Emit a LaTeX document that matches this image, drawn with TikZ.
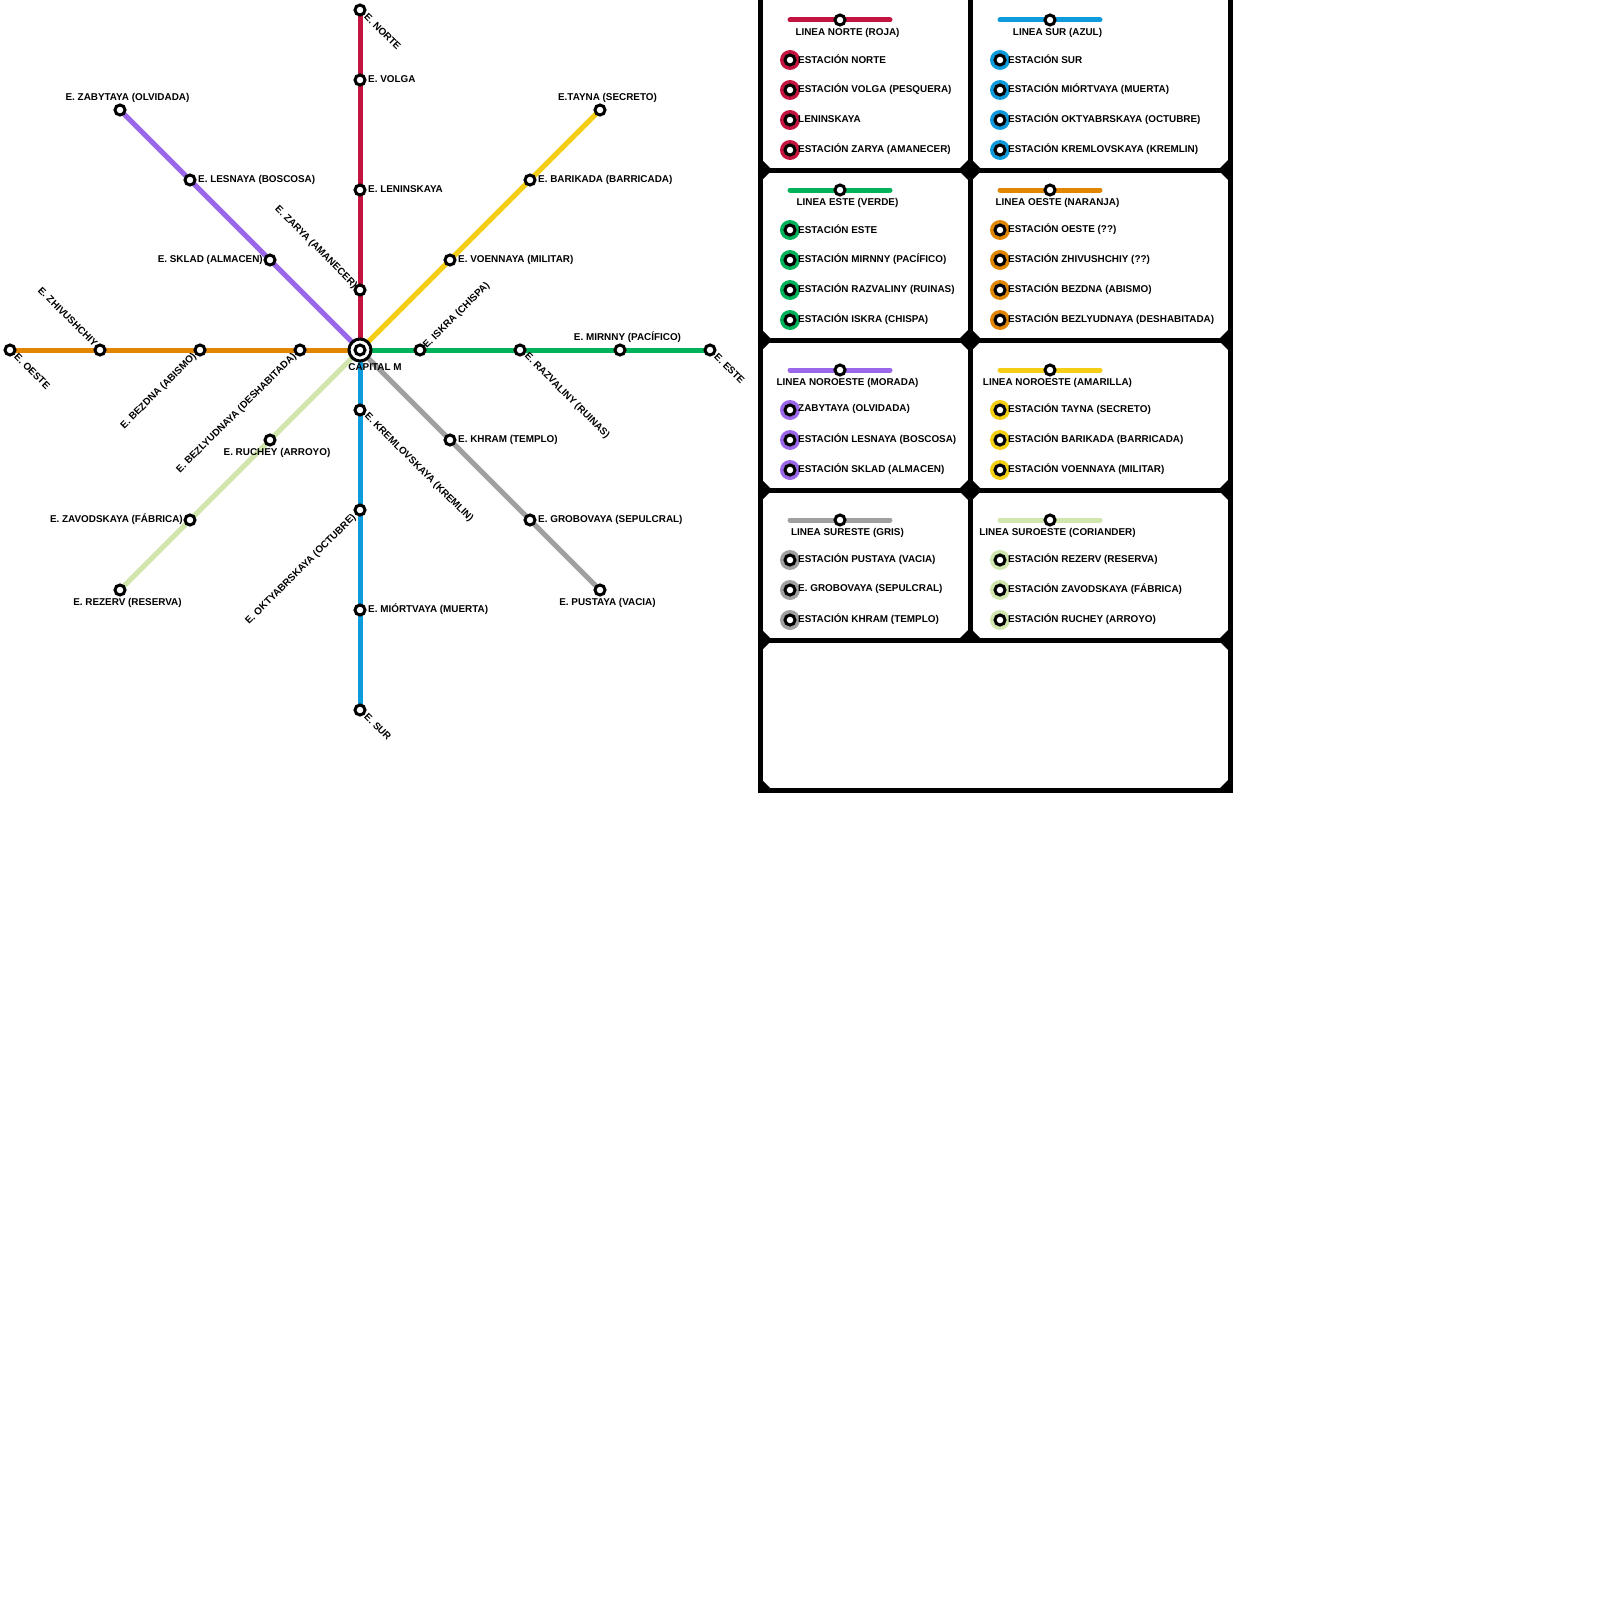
\documentclass[tikz,border=0pt]{standalone}
\usepackage{fontspec}
\setmainfont{Liberation Sans}[BoldFont={Liberation Sans Bold}]
\definecolor{cRed}{HTML}{C2143F}
\definecolor{cBlue}{HTML}{0E9BDC}
\definecolor{cGreen}{HTML}{00B35A}
\definecolor{cOrange}{HTML}{E08600}
\definecolor{cPurple}{HTML}{9B67EA}
\definecolor{cYellow}{HTML}{F3CE14}
\definecolor{cGray}{HTML}{A0A0A0}
\definecolor{cLime}{HTML}{D1E6AC}
\tikzset{
  stn/.style={circle,draw=black,fill=white,line width=3pt,minimum size=10pt,inner sep=0pt},
  hub/.style={circle,draw=black,fill=white,line width=3pt,minimum size=22pt,inner sep=0pt},
  tline/.style={line width=5pt},
  lgline/.style={line width=5pt,line cap=round},
  lab/.style={inner sep=0pt,font=\fontsize{9.9}{11}\selectfont\bfseries,text=black},
  labw/.style={lab,anchor=west},
  labe/.style={lab,anchor=east},
  rotd/.style={rotate=-45},
  rotu/.style={rotate=45},
  frame/.style={line width=5pt,draw=black,line cap=butt},
}
\pgfdeclarelayer{background}
\pgfsetlayers{background,main}
\newcommand{\lgtitle}[6]{% id, xleft, y, colour, title, title-x
  \coordinate (#1a) at (#2,#3);
  \coordinate (#1b) at (#2+100,#3);
  \node[stn] (#1s) at (#2+50,#3) {};
  \begin{pgfonlayer}{background}\draw[lgline,#4] (#1a) -- (#1b);\end{pgfonlayer}
  \node[lab] (#1t) at (#6,#3+12.5) {#5};
}
\newcommand{\lgstop}[5]{% id, x, y, colour, text
  \node[circle,fill=#4,minimum size=20pt,inner sep=0pt] (#1d) at (#2,#3) {};
  \node[stn] (#1s) at (#2,#3) {};
  \node[labw] (#1t) at (#2+8,#3-1) {#5};
}
\begin{document}
\begin{tikzpicture}[x=1pt,y=-1pt]
\begin{pgfonlayer}{background}
\fill[white] (0,0) rectangle (1600,1600);
\end{pgfonlayer}
\useasboundingbox (0,0) rectangle (1600,1600);

% stations
\node[stn] (rA) at (360,10) {};
\node[stn] (rB) at (360,80) {};
\node[stn] (rC) at (360,190) {};
\node[stn] (rD) at (360,290) {};
\node[stn] (uA) at (360,410) {};
\node[stn] (uB) at (360,510) {};
\node[stn] (uC) at (360,610) {};
\node[stn] (uD) at (360,710) {};
\node[stn] (oA) at (10,350) {};
\node[stn] (oB) at (100,350) {};
\node[stn] (oC) at (200,350) {};
\node[stn] (oD) at (300,350) {};
\node[stn] (gA) at (420,350) {};
\node[stn] (gB) at (520,350) {};
\node[stn] (gC) at (620,350) {};
\node[stn] (gD) at (710,350) {};
\node[stn] (pA) at (120,110) {};
\node[stn] (pB) at (190,180) {};
\node[stn] (pC) at (270,260) {};
\node[stn] (yA) at (600,110) {};
\node[stn] (yB) at (530,180) {};
\node[stn] (yC) at (450,260) {};
\node[stn] (kA) at (450,440) {};
\node[stn] (kB) at (530,520) {};
\node[stn] (kC) at (600,590) {};
\node[stn] (lA) at (270,440) {};
\node[stn] (lB) at (190,520) {};
\node[stn] (lC) at (120,590) {};
\node[hub] (cap) at (360,350) {};
\node[stn] (capin) at (360,350) {};

% lines
\begin{pgfonlayer}{background}
\draw[tline,cRed] (rA.center) -- (rB.center) -- (rC.center) -- (rD.center) -- (cap.center);
\draw[tline,cBlue] (cap.center) -- (uA.center) -- (uB.center) -- (uC.center) -- (uD.center);
\draw[tline,cOrange] (oA.center) -- (oB.center) -- (oC.center) -- (oD.center) -- (cap.center);
\draw[tline,cGreen] (cap.center) -- (gA.center) -- (gB.center) -- (gC.center) -- (gD.center);
\draw[tline,cPurple] (pA.center) -- (pB.center) -- (pC.center) -- (cap.center);
\draw[tline,cYellow] (yA.center) -- (yB.center) -- (yC.center) -- (cap.center);
\draw[tline,cGray] (cap.center) -- (kA.center) -- (kB.center) -- (kC.center);
\draw[tline,cLime] (cap.center) -- (lA.center) -- (lB.center) -- (lC.center);
\end{pgfonlayer}

% map labels
\node[labw,rotd] (t1) at (366,15) {E. NORTE};
\node[labw] (t2) at (368,79.5) {E. VOLGA};
\node[labw] (t3) at (368,189.5) {E. LENINSKAYA};
\node[labe,rotd] (t4) at (355.5,287) {E. ZARYA (AMANECER)};
\node[lab] (t5) at (375,367.5) {CAPITAL M};
\node[labw,rotd] (t6) at (366,415) {E. KREMLOVSKAYA (KREMLIN)};
\node[labe,rotu] (t7) at (354.5,516) {E. OKTYABRSKAYA (OCTUBRE)};
\node[labw] (t8) at (368,609.5) {E. MIÓRTVAYA (MUERTA)};
\node[labw,rotd] (t9) at (366,715) {E. SUR};
\node[labw,rotd] (t10) at (16,355) {E. OESTE};
\node[labe,rotd] (t11) at (96,345) {E. ZHIVUSHCHIY};
\node[labe,rotu] (t12) at (195,355) {E. BEZDNA (ABISMO)};
\node[labe,rotu] (t13) at (295,355) {E. BEZLYUDNAYA (DESHABITADA)};
\node[lab] (t14) at (277,452.5) {E. RUCHEY (ARROYO)};
\node[labe] (t15) at (183,519.5) {E. ZAVODSKAYA (FÁBRICA)};
\node[lab] (t16) at (127.5,602.5) {E. REZERV (RESERVA)};
\node[lab] (t17) at (127.5,97.5) {E. ZABYTAYA (OLVIDADA)};
\node[labw] (t18) at (198,179.5) {E. LESNAYA (BOSCOSA)};
\node[labe] (t19) at (263,260) {E. SKLAD (ALMACEN)};
\node[lab] (t20) at (607.5,97.5) {E.TAYNA (SECRETO)};
\node[labw] (t21) at (538,179.5) {E. BARIKADA (BARRICADA)};
\node[labw] (t22) at (458,259.5) {E. VOENNAYA (MILITAR)};
\node[labw,rotu] (t23) at (425,347) {E. ISKRA (CHISPA)};
\node[labw,rotd] (t24) at (526,355) {E. RAZVALINY (RUINAS)};
\node[lab] (t25) at (627.5,337) {E. MIRNNY (PACÍFICO)};
\node[labw,rotd] (t26) at (716,355) {E. ESTE};
\node[labw] (t27) at (458,439.5) {E. KHRAM (TEMPLO)};
\node[labw] (t28) at (538,519.5) {E. GROBOVAYA (SEPULCRAL)};
\node[lab] (t29) at (607.5,602.5) {E. PUSTAYA (VACIA)};

% legend frame
\draw[frame] (760,0) -- (760,792.5);
\draw[frame] (970,0) -- (970,640);
\draw[frame] (1230,0) -- (1230,792.5);
\foreach \yy in {170,340,490,640,790} \draw[frame] (757.5,\yy) -- (1232.5,\yy);
\foreach \yy in {170,340,490,640} {
  \fill (760,\yy-12) -- (772,\yy) -- (760,\yy+12) -- cycle;
  \fill (1230,\yy-12) -- (1218,\yy) -- (1230,\yy+12) -- cycle;
}
\foreach \yy in {170,340,490} \fill (970,\yy-12) -- (982,\yy) -- (970,\yy+12) -- (958,\yy) -- cycle;
\fill (958,640) -- (970,628) -- (982,640) -- cycle;
\fill (760,778) -- (772,790) -- (760,790) -- cycle;
\fill (1230,778) -- (1218,790) -- (1230,790) -- cycle;

% legend: north
\lgtitle{a}{790}{20}{cRed}{LINEA NORTE (ROJA)}{847.5}
\lgstop{a1}{790}{60}{cRed}{ESTACIÓN NORTE}
\lgstop{a2}{790}{90}{cRed}{ESTACIÓN VOLGA (PESQUERA)}
\lgstop{a3}{790}{120}{cRed}{LENINSKAYA}
\lgstop{a4}{790}{150}{cRed}{ESTACIÓN ZARYA (AMANECER)}
% south
\lgtitle{b}{1000}{20}{cBlue}{LINEA SUR (AZUL)}{1057.5}
\lgstop{b1}{1000}{60}{cBlue}{ESTACIÓN SUR}
\lgstop{b2}{1000}{90}{cBlue}{ESTACIÓN MIÓRTVAYA (MUERTA)}
\lgstop{b3}{1000}{120}{cBlue}{ESTACIÓN OKTYABRSKAYA (OCTUBRE)}
\lgstop{b4}{1000}{150}{cBlue}{ESTACIÓN KREMLOVSKAYA (KREMLIN)}
% east
\lgtitle{c}{790}{190}{cGreen}{LINEA ESTE (VERDE)}{847.5}
\lgstop{c1}{790}{230}{cGreen}{ESTACIÓN ESTE}
\lgstop{c2}{790}{260}{cGreen}{ESTACIÓN MIRNNY (PACÍFICO)}
\lgstop{c3}{790}{290}{cGreen}{ESTACIÓN RAZVALINY (RUINAS)}
\lgstop{c4}{790}{320}{cGreen}{ESTACIÓN ISKRA (CHISPA)}
% west
\lgtitle{d}{1000}{190}{cOrange}{LINEA OESTE (NARANJA)}{1057.5}
\lgstop{d1}{1000}{230}{cOrange}{ESTACIÓN OESTE (??)}
\lgstop{d2}{1000}{260}{cOrange}{ESTACIÓN ZHIVUSHCHIY (??)}
\lgstop{d3}{1000}{290}{cOrange}{ESTACIÓN BEZDNA (ABISMO)}
\lgstop{d4}{1000}{320}{cOrange}{ESTACIÓN BEZLYUDNAYA (DESHABITADA)}
% purple
\lgtitle{e}{790}{370}{cPurple}{LINEA NOROESTE (MORADA)}{847.5}
\lgstop{e1}{790}{410}{cPurple}{ZABYTAYA (OLVIDADA)}
\lgstop{e2}{790}{440}{cPurple}{ESTACIÓN LESNAYA (BOSCOSA)}
\lgstop{e3}{790}{470}{cPurple}{ESTACIÓN SKLAD (ALMACEN)}
% yellow
\lgtitle{f}{1000}{370}{cYellow}{LINEA NOROESTE (AMARILLA)}{1057.5}
\lgstop{f1}{1000}{410}{cYellow}{ESTACIÓN TAYNA (SECRETO)}
\lgstop{f2}{1000}{440}{cYellow}{ESTACIÓN BARIKADA (BARRICADA)}
\lgstop{f3}{1000}{470}{cYellow}{ESTACIÓN VOENNAYA (MILITAR)}
% gray
\lgtitle{g}{790}{520}{cGray}{LINEA SURESTE (GRIS)}{847.5}
\lgstop{g1}{790}{560}{cGray}{ESTACIÓN PUSTAYA (VACIA)}
\lgstop{g2}{790}{590}{cGray}{E. GROBOVAYA (SEPULCRAL)}
\lgstop{g3}{790}{620}{cGray}{ESTACIÓN KHRAM (TEMPLO)}
% lime
\lgtitle{h}{1000}{520}{cLime}{LINEA SUROESTE (CORIANDER)}{1057.5}
\lgstop{h1}{1000}{560}{cLime}{ESTACIÓN REZERV (RESERVA)}
\lgstop{h2}{1000}{590}{cLime}{ESTACIÓN ZAVODSKAYA (FÁBRICA)}
\lgstop{h3}{1000}{620}{cLime}{ESTACIÓN RUCHEY (ARROYO)}
\end{tikzpicture}
\end{document}
